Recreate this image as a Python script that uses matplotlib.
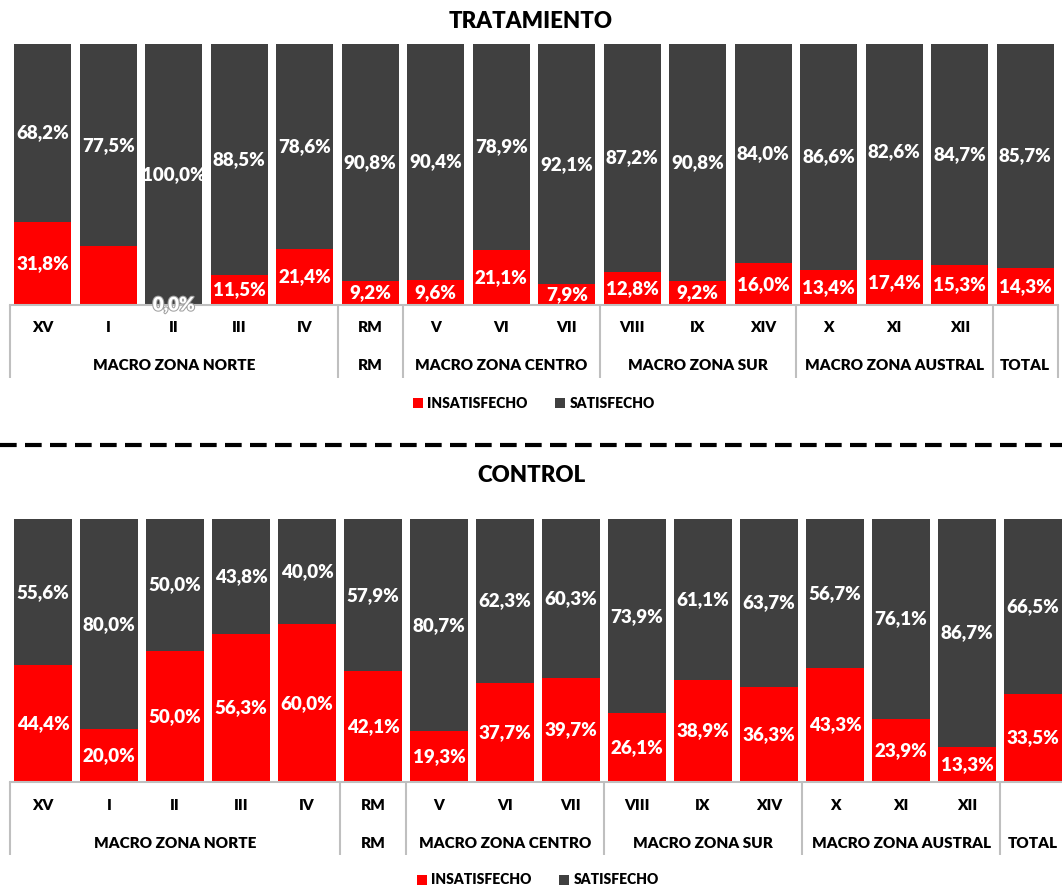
import matplotlib
matplotlib.use("Agg")
import matplotlib.pyplot as plt
import matplotlib.patheffects as pe
from matplotlib.transforms import blended_transform_factory

plt.rcParams['font.family'] = ['Lato', 'DejaVu Sans']

regiones = ["XV", "I", "II", "III", "IV", "RM", "V", "VI", "VII",
            "VIII", "IX", "XIV", "X", "XI", "XII", ""]
grupos = ["MACRO ZONA NORTE", "RM", "MACRO ZONA CENTRO", "MACRO ZONA SUR",
          "MACRO ZONA AUSTRAL", "TOTAL"]
grupo_tam = [5, 1, 3, 3, 3, 1]

trat_insat = [31.8, 22.5, 0.0, 11.5, 21.4, 9.2, 9.6, 21.1, 7.9,
              12.8, 9.2, 16.0, 13.4, 17.4, 15.3, 14.3]
trat_sat = [68.2, 77.5, 100.0, 88.5, 78.6, 90.8, 90.4, 78.9, 92.1,
            87.2, 90.8, 84.0, 86.6, 82.6, 84.7, 85.7]
trat_insat_visible = [True, False] + [True] * 14

ctrl_insat = [44.4, 20.0, 50.0, 56.3, 60.0, 42.1, 19.3, 37.7, 39.7,
              26.1, 38.9, 36.3, 43.3, 23.9, 13.3, 33.5]
ctrl_sat = [55.6, 80.0, 50.0, 43.8, 40.0, 57.9, 80.7, 62.3, 60.3,
            73.9, 61.1, 63.7, 56.7, 76.1, 86.7, 66.5]

ROJO = "#FF0000"
GRIS = "#404040"
LINEA = "#BFBFBF"
PESO = "heavy"

W, H = 1062, 886
fig = plt.figure(figsize=(W / 100, H / 100), dpi=100)


def fmt(v):
    return f"{v:.1f}%".replace(".", ",")


def panel(rect, titulo, insat, sat, insat_visible, titulo_y):
    x0, y_top, x1, y_bot = rect
    ax = fig.add_axes([x0 / W, 1 - y_bot / H, (x1 - x0) / W, (y_bot - y_top) / H])
    x = list(range(len(regiones)))
    ax.bar(x, insat, width=0.87, color=ROJO, label="INSATISFECHO")
    ax.bar(x, sat, bottom=insat, width=0.87, color=GRIS, label="SATISFECHO")
    ax.set_xlim(-0.5, len(regiones) - 0.5)
    ax.set_ylim(0, 100)
    ax.set_yticks([])
    ax.set_xticks([])
    for s in ["top", "right", "left"]:
        ax.spines[s].set_visible(False)
    ax.spines["bottom"].set_color(LINEA)
    ax.spines["bottom"].set_linewidth(1.5)

    for i in x:
        if insat_visible[i]:
            t = ax.text(i, insat[i] / 2, fmt(insat[i]), ha="center", va="center",
                        color="white", fontsize=13.5, fontweight=PESO, zorder=5)
            if insat[i] == 0:
                t.set_path_effects([pe.withStroke(linewidth=1.5, foreground="#A0A0A0")])
        ax.text(i, insat[i] + sat[i] / 2, fmt(sat[i]), ha="center", va="center",
                color="white", fontsize=13.5, fontweight=PESO, zorder=5)

    ph = y_bot - y_top
    trans = blended_transform_factory(ax.transData, ax.transAxes)
    for i, r in enumerate(regiones):
        ax.text(i, -23 / ph, r, transform=trans, ha="center", va="center",
                fontsize=11, fontweight=PESO, color="black")
    pos = -0.5
    bordes = [pos]
    for g, n in zip(grupos, grupo_tam):
        ax.text(pos + n / 2, -61 / ph, g, transform=trans, ha="center", va="center",
                fontsize=11, fontweight=PESO, color="black")
        pos += n
        bordes.append(pos)
    for b in bordes:
        ax.plot([b, b], [0, -73 / ph], transform=trans, color=LINEA, lw=1.5,
                clip_on=False, solid_capstyle="butt")

    ax.legend(loc="center", bbox_to_anchor=(0.5, -98 / ph), ncol=2,
              frameon=False, handlelength=0.7, handleheight=0.7,
              handletextpad=0.3, columnspacing=2.0,
              prop={"size": 10, "weight": PESO})
    fig.text(0.5, 1 - titulo_y / H, titulo, ha="center", va="center",
             fontsize=16, fontweight=PESO)
    return ax


panel((10, 44, 1058, 305), "TRATAMIENTO", trat_insat, trat_sat,
      trat_insat_visible, 22)
panel((10, 519, 1066, 782), "CONTROL", ctrl_insat, ctrl_sat,
      [True] * 16, 476)

fig.add_artist(plt.Line2D([0, 1], [1 - 445 / H, 1 - 445 / H], color="black",
                          lw=3, linestyle=(0, (4, 2)), transform=fig.transFigure))

fig.savefig("out.png", dpi=100)
